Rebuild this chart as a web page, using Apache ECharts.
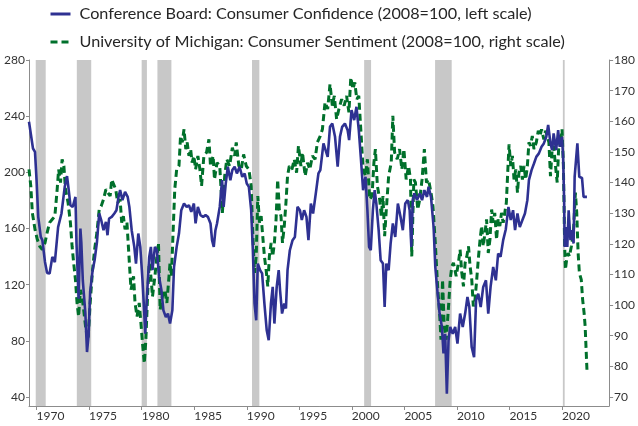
<!DOCTYPE html>
<html>
<head>
<meta charset="utf-8">
<style>
  html, body { margin: 0; padding: 0; background: #fff; }
  #chart { width: 638px; height: 426px; }
</style>
<script src="https://cdn.jsdelivr.net/npm/echarts@6/dist/echarts.min.js"></script>
</head>
<body>
<div id="chart"></div>
<script>
// Conference Board consumer confidence, 2008=100 (left scale), [year, value]
var cbData = [
  [1969.28,236],[1969.66,217],[1969.85,214.6],[1970.0,194.4],[1970.16,168.3],[1970.4,154],[1970.55,151.7],
  [1970.8,136.2],[1971.0,128.4],[1971.24,128],[1971.5,139.8],[1971.74,136],[1972.05,161],[1972.37,170.7],
  [1972.68,189.7],[1972.9,197.3],[1973.06,187.3],[1973.22,176.6],[1973.44,175.4],[1973.7,182.5],[1973.8,149.3],
  [1974.0,110],[1974.17,160],[1974.26,150],[1974.4,123],[1974.64,100],[1974.8,72],[1974.95,84],[1975.1,115],
  [1975.33,130],[1975.52,137.4],[1975.74,150],[1975.96,170.7],[1976.15,166],[1976.37,158.8],[1976.6,164.7],
  [1976.75,155.2],[1976.9,167.1],[1977.15,168.3],[1977.4,170.7],[1977.6,173],[1977.8,182.5],[1977.95,187.3],
  [1978.17,180.2],[1978.42,186.1],[1978.67,182.5],[1978.83,175.4],[1979.05,158.8],[1979.3,146.9],[1979.46,135],
  [1979.68,156.4],[1979.87,146.9],[1980.08,123.1],[1980.25,99.4],[1980.34,85],[1980.5,111.2],[1980.72,139.8],
  [1980.88,146.9],[1981.03,130.3],[1981.26,146.9],[1981.45,144.5],[1981.66,125.5],[1981.88,116],[1982.07,101.7],
  [1982.3,97],[1982.5,99.4],[1982.7,92.3],[1982.92,101.7],[1983.08,132.6],[1983.33,146.9],[1983.55,156.4],
  [1983.77,173],[1984.03,177.8],[1984.28,175.4],[1984.5,176.6],[1984.72,171.8],[1984.97,177.8],[1985.13,163.6],
  [1985.35,175.4],[1985.6,169.5],[1985.85,168.3],[1986.08,169.5],[1986.3,168.3],[1986.55,163.6],[1986.7,151.7],
  [1986.86,146.9],[1987.02,158.8],[1987.17,163.6],[1987.43,175.4],[1987.65,194.4],[1987.8,175.4],[1988.0,192],
  [1988.2,204],[1988.44,194.4],[1988.63,201.6],[1988.85,204],[1989.06,199.2],[1989.32,204],[1989.57,196.8],
  [1989.8,199.2],[1990.0,192],[1990.2,189.7],[1990.42,173],[1990.58,144.5],[1990.74,106.5],[1990.9,94.6],
  [1991.05,135],[1991.27,130.3],[1991.46,128],[1991.68,106.5],[1991.9,87.5],[1992.09,80.4],[1992.3,106.5],
  [1992.47,118.4],[1992.63,92.3],[1992.85,118.4],[1993.04,130.3],[1993.17,116],[1993.36,99.4],[1993.57,106.5],
  [1993.73,103],[1993.88,130.3],[1994.1,144.5],[1994.36,151.7],[1994.58,154],[1994.83,175.4],[1995.06,173],
  [1995.24,166],[1995.46,173],[1995.68,168.3],[1995.87,151.7],[1996.1,177.8],[1996.31,170.7],[1996.57,185],
  [1996.82,199.2],[1997.0,201.6],[1997.3,220.6],[1997.5,215.8],[1997.7,211],[1997.92,232.4],[1998.14,234.8],
  [1998.4,225.3],[1998.65,204],[1998.87,225.3],[1999.08,232.4],[1999.34,234.8],[1999.6,230],[1999.74,223],
  [1999.97,244.3],[2000.22,237.2],[2000.44,246.7],[2000.66,230],[2000.85,211],[2001.07,187.3],[2001.3,196.8],
  [2001.48,173],[2001.64,146.9],[2001.8,144.5],[2002.0,173],[2002.17,187.3],[2002.33,177.8],[2002.55,158.8],
  [2002.74,137.4],[2002.96,135],[2003.12,104.1],[2003.28,135],[2003.5,130.3],[2003.69,149.3],[2003.9,163.6],
  [2004.13,154],[2004.38,177.8],[2004.63,168.3],[2004.85,158.8],[2005.08,177.8],[2005.32,180.2],[2005.5,173],
  [2005.66,146.9],[2005.8,180.2],[2005.95,185],[2006.2,180.2],[2006.46,185],[2006.68,180.2],[2006.9,187.3],
  [2007.15,182.5],[2007.3,189.7],[2007.53,182.5],[2007.78,161],[2007.94,132.6],[2008.16,113.6],[2008.35,99.4],
  [2008.57,89.9],[2008.72,71],[2008.88,85],[2009.04,42.4],[2009.2,80.4],[2009.36,89.9],[2009.6,85],
  [2009.83,89.9],[2010.05,78],[2010.3,99.4],[2010.55,89.9],[2010.78,99.4],[2011.0,111.2],[2011.18,104.1],
  [2011.4,75.6],[2011.63,68.4],[2011.82,108.8],[2012.03,113.6],[2012.26,104.1],[2012.5,118.4],[2012.76,123.1],
  [2012.98,99.4],[2013.2,118.4],[2013.45,132.6],[2013.7,123.1],[2013.92,142.2],[2014.15,139.8],[2014.4,151.7],
  [2014.65,159.5],[2014.9,175.4],[2015.12,166],[2015.34,173],[2015.53,158.8],[2015.76,170.7],[2015.98,161],
  [2016.23,166],[2016.47,170.7],[2016.7,180.2],[2016.85,194.4],[2017.1,201.6],[2017.33,206.3],[2017.55,211],
  [2017.8,213.5],[2018.05,218.2],[2018.27,220.6],[2018.5,225.3],[2018.68,233.7],[2018.9,220.6],[2019.06,215.8],
  [2019.2,227.7],[2019.44,215.8],[2019.63,230],[2019.78,218.2],[2020.0,225.3],[2020.1,211],[2020.2,180.2],
  [2020.25,146.9],[2020.38,161],[2020.5,146.9],[2020.63,173],[2020.8,151.7],[2020.95,158.8],[2021.1,149.3],
  [2021.2,196.8],[2021.33,208.7],[2021.46,220.6],[2021.64,196.8],[2021.9,196],[2022.05,182.5],[2022.21,183.8],
  [2022.37,182.5]
]

// University of Michigan consumer sentiment, 2008=100 (right scale), [year, value]
var umData = [
  [1969.28,144.3],[1969.45,138.9],[1969.6,130.1],[1969.85,124.7],[1970.07,121.4],[1970.3,119.2],[1970.55,118.1],
  [1970.8,120.3],[1971.0,123.6],[1971.24,126.9],[1971.5,128],[1971.74,129],[1971.96,137.8],[1972.1,144.3],
  [1972.28,140],[1972.43,147.6],[1972.6,145.4],[1972.75,137.8],[1973.0,133.4],[1973.22,126.9],[1973.38,119.2],
  [1973.53,113.8],[1973.7,108.3],[1973.85,100.7],[1974.0,96.3],[1974.17,105],[1974.32,102.8],[1974.48,98.5],
  [1974.7,91.9],[1974.9,88.7],[1975.1,100.7],[1975.33,111.6],[1975.52,118.1],[1975.74,123.6],[1975.96,131.2],
  [1976.15,132.3],[1976.37,134.5],[1976.6,137.8],[1976.78,136.7],[1977.0,135.6],[1977.15,141],[1977.3,140.5],
  [1977.53,137.8],[1977.72,133.4],[1977.95,134.5],[1978.1,126.9],[1978.26,129],[1978.42,124.7],[1978.6,126.9],
  [1978.83,113.8],[1978.99,105],[1979.23,109.4],[1979.37,100.7],[1979.56,96.3],[1979.77,100.7],[1979.93,94.1],
  [1980.08,87.6],[1980.25,81],[1980.4,88.7],[1980.56,102.8],[1980.72,113.8],[1980.88,109.4],[1981.03,102.8],
  [1981.26,109.4],[1981.45,116],[1981.6,120.3],[1981.76,98.5],[1981.97,102.8],[1982.2,105],[1982.4,100.7],
  [1982.55,107.2],[1982.7,113.8],[1982.83,109.4],[1983.0,124.7],[1983.15,137.8],[1983.33,144.3],[1983.55,145.4],
  [1983.7,155.2],[1983.86,153.1],[1984.03,157.4],[1984.2,150.9],[1984.33,153.1],[1984.5,148.7],[1984.66,150.9],
  [1984.8,146.5],[1984.97,148.7],[1985.13,144.3],[1985.35,148.7],[1985.54,144.3],[1985.7,138.9],[1985.92,148.7],
  [1986.17,149.8],[1986.4,154.1],[1986.55,145.4],[1986.8,148.7],[1986.93,141],[1987.17,146.5],[1987.43,145.4],
  [1987.68,130.1],[1987.9,142.1],[1988.1,147.6],[1988.37,145.4],[1988.63,151.4],[1988.85,148.7],[1989.0,153.1],
  [1989.25,145.4],[1989.48,144.3],[1989.7,149.2],[1989.95,145.4],[1990.2,144.3],[1990.42,138.9],[1990.58,122.5],
  [1990.74,110.5],[1990.9,115.9],[1991.05,135.6],[1991.21,126.9],[1991.37,129],[1991.52,122.5],[1991.68,115.9],
  [1991.84,111.6],[1992.0,106.1],[1992.15,115.9],[1992.32,120.3],[1992.47,115.9],[1992.63,120.3],[1992.79,128],
  [1992.94,141],[1993.1,131.2],[1993.26,129],[1993.4,120.3],[1993.57,125.8],[1993.73,133.4],[1993.88,142.1],
  [1994.05,145.4],[1994.3,144.3],[1994.52,147.6],[1994.74,143.2],[1994.92,152],[1995.15,145.4],[1995.3,149.8],
  [1995.56,142.1],[1995.78,146.5],[1996.0,144.3],[1996.25,148.7],[1996.5,147.6],[1996.72,153.1],[1997.0,155.2],
  [1997.2,157.4],[1997.45,166.2],[1997.7,164],[1997.92,172.1],[1998.14,165.1],[1998.33,168.3],[1998.55,160.7],
  [1998.77,164],[1999.03,167.2],[1999.27,165.1],[1999.5,168.3],[1999.72,162.9],[1999.9,174.3],[2000.1,170.5],
  [2000.28,172.7],[2000.47,167.2],[2000.66,168.3],[2000.85,157.4],[2001.07,144.3],[2001.3,142.1],[2001.48,147.6],
  [2001.7,134.5],[2001.92,135.6],[2002.1,146.5],[2002.24,150.9],[2002.43,138.9],[2002.65,134.5],[2002.8,129],
  [2002.96,135.6],[2003.12,122.5],[2003.28,131.2],[2003.5,142.1],[2003.75,146.5],[2003.9,161.8],[2004.07,149.8],
  [2004.32,147.6],[2004.54,150.9],[2004.76,144.3],[2004.95,150.9],[2005.17,141],[2005.4,145.4],[2005.58,141],
  [2005.7,115.9],[2005.9,141],[2006.05,140],[2006.27,131.2],[2006.46,134.5],[2006.68,141],[2006.9,150.9],
  [2007.1,140],[2007.3,141],[2007.53,136.7],[2007.72,132.3],[2007.94,120.3],[2008.16,106.1],[2008.35,97.4],
  [2008.48,88.7],[2008.63,108.3],[2008.79,93],[2008.98,88.7],[2009.2,99.6],[2009.36,108.3],[2009.52,112.7],
  [2009.67,113.8],[2009.93,109.4],[2010.14,113.8],[2010.3,118.1],[2010.46,110.5],[2010.62,106.1],[2010.78,113.8],
  [2010.94,115.9],[2011.1,119.2],[2011.25,112.7],[2011.41,108.3],[2011.56,99.6],[2011.72,101.8],[2011.88,108.3],
  [2012.03,114.9],[2012.2,121.4],[2012.35,125.8],[2012.5,119.2],[2012.67,123.6],[2012.82,128],[2012.98,117],
  [2013.14,121.4],[2013.3,131.2],[2013.45,126.9],[2013.6,130.1],[2013.77,121.4],[2013.92,128],[2014.08,125.8],
  [2014.24,130.1],[2014.4,126.9],[2014.55,130.1],[2014.7,133.4],[2014.86,145.4],[2014.96,152.5],[2015.12,145.4],
  [2015.28,148.7],[2015.43,141],[2015.6,144.3],[2015.76,136.7],[2015.9,143.2],[2016.07,145.4],[2016.23,141],
  [2016.38,145.4],[2016.54,141],[2016.7,145.4],[2016.85,153.1],[2017.0,152],[2017.17,155.2],[2017.33,150.9],
  [2017.55,153.1],[2017.74,156.9],[2017.9,155.2],[2018.05,157.4],[2018.27,154.1],[2018.43,156.9],[2018.6,155.2],
  [2018.75,153.1],[2018.9,142.1],[2019.06,150.9],[2019.2,152],[2019.38,145.4],[2019.54,140],[2019.7,153.1],
  [2019.85,152],[2020.0,157.4],[2020.13,145.4],[2020.25,119.2],[2020.32,111.6],[2020.44,114.9],[2020.58,117],
  [2020.7,115.9],[2020.89,119.2],[2021.08,123.6],[2021.27,136.7],[2021.4,130.1],[2021.53,117],[2021.65,110.5],
  [2021.83,108.3],[2021.96,101.8],[2022.1,97.4],[2022.2,93],[2022.37,78.9]
]

// NBER recessions, [start, end] in years
var recessions = [
  [1969.92,1970.87],[1973.83,1975.2],[1980.0,1980.5],[1981.5,1982.83],
  [1990.5,1991.2],[2001.17,2001.83],[2007.92,2009.5],[2020.08,2020.25]
]

var yearTicks = [1970,1975,1980,1985,1990,1995,2000,2005,2010,2015,2020]
var leftTicks = [40,80,120,160,200,240,280]
var rightTicks = [70,80,90,100,110,120,130,140,150,160,170,180]

var cbName = 'Conference Board: Consumer Confidence (2008=100, left scale)'
var umName = 'University of Michigan: Consumer Sentiment (2008=100, right scale)'

var font = 'Lato'
var axisGray = '#8c8c8c'
var blue = '#2e3192'
var green = '#00702b'

var chart = echarts.init(document.getElementById('chart'), null, { renderer: 'canvas' })

chart.setOption({
  animation: false,
  backgroundColor: '#fff',
  textStyle: { fontFamily: font },
  legend: {
    data: [cbName, umName],
    orient: 'vertical',
    left: 49,
    top: 6,
    padding: 0,
    itemWidth: 20,
    itemHeight: 16,
    itemGap: 12,
    itemStyle: { opacity: 0 }, // hide the marker, keep the line sample
    lineStyle: { width: 3 },
    textStyle: { fontSize: 16.2, color: '#262626', fontFamily: font, padding: [0, 0, 0, 4] }
  },
  grid: { left: 29, right: 25, top: 60, bottom: 20 },
  xAxis: {
    type: 'value',
    min: 1969.28,
    max: 2024.48,
    splitLine: { show: false },
    axisLine: { lineStyle: { color: axisGray } },
    axisTick: { show: true, length: 4, lineStyle: { color: axisGray }, customValues: yearTicks },
    axisLabel: {
      customValues: yearTicks,
      align: 'left',
      margin: 4,
      color: '#333',
      fontSize: 12,
      fontFamily: font,
      formatter: function (v) { return String(Math.round(v)) }
    }
  },
  yAxis: [{
    type: 'value',
    position: 'left',
    min: 33.59,
    max: 280,
    splitLine: { show: false },
    axisLine: { show: true, lineStyle: { color: axisGray } },
    axisTick: { show: true, length: 3, lineStyle: { color: axisGray }, customValues: leftTicks },
    axisLabel: { customValues: leftTicks, margin: 4, color: '#333', fontSize: 12, fontFamily: font }
  }, {
    type: 'value',
    position: 'right',
    min: 67.06,
    max: 180,
    splitLine: { show: false },
    axisLine: { show: true, lineStyle: { color: axisGray } },
    axisTick: { show: true, length: 4, lineStyle: { color: axisGray }, customValues: rightTicks },
    axisLabel: { customValues: rightTicks, margin: 5, color: '#333', fontSize: 12, fontFamily: font }
  }],
  series: [{
    name: 'recessions',
    type: 'line',
    data: [],
    z: 1,
    silent: true,
    markArea: {
      silent: true,
      itemStyle: { color: '#c8c8c8' },
      data: recessions.map(function (r) { return [{ xAxis: r[0] }, { xAxis: r[1] }] })
    }
  }, {
    name: cbName,
    type: 'line',
    yAxisIndex: 0,
    data: cbData,
    symbol: 'none',
    z: 4,
    color: blue,
    lineStyle: { width: 2.6, color: blue }
  }, {
    name: umName,
    type: 'line',
    yAxisIndex: 1,
    data: umData,
    symbol: 'none',
    z: 3,
    color: green,
    lineStyle: { width: 3, color: green, type: [7, 4] }
  }]
})
</script>
</body>
</html>
